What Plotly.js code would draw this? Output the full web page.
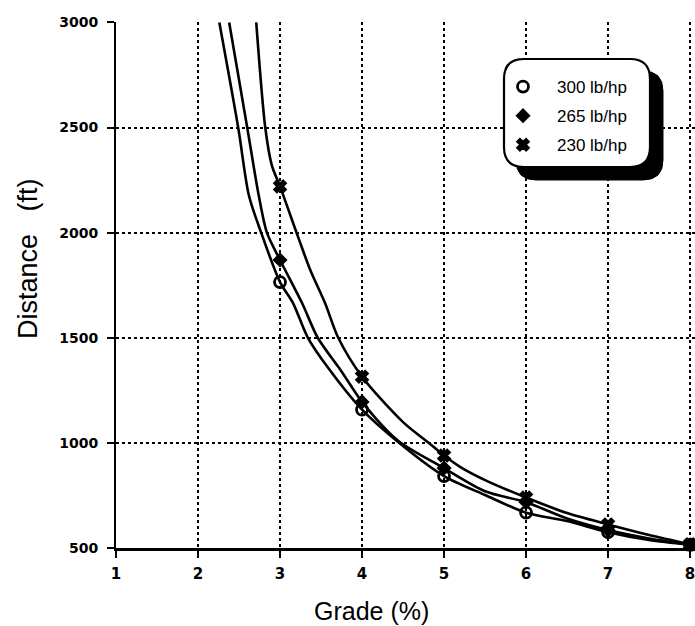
<!DOCTYPE html>
<html>
<head>
<meta charset="utf-8">
<script src="https://cdn.plot.ly/plotly-3.0.1.min.js"></script>
<style>html,body{margin:0;padding:0;background:#fff;}#chart{width:695px;height:626px;}</style>
</head>
<body>
<div id="chart"></div>
<script>
// ---- data ----
const seriesNames = ["300 lb/hp", "265 lb/hp", "230 lb/hp"];
const gradeTicks = [1, 2, 3, 4, 5, 6, 7, 8];
const distanceTicks = [500, 1000, 1500, 2000, 2500, 3000];

const grade300 = [2.26, 2.49, 2.62, 2.77, 3.0, 3.16, 3.34, 3.6, 4.0, 4.44, 5.0, 5.5, 6.0, 6.5, 7.0, 7.5, 8.0];
const dist300  = [3000, 2500, 2178, 2000, 1765, 1664, 1500, 1350, 1158, 1004, 842, 752, 668, 628, 575, 538, 515];

const grade265 = [2.38, 2.60, 2.74, 2.84, 3.0, 3.27, 3.46, 3.75, 4.0, 4.44, 5.0, 5.5, 6.0, 6.5, 7.0, 7.5, 8.0];
const dist265  = [3000, 2500, 2178, 2000, 1870, 1664, 1500, 1340, 1195, 1010, 880, 770, 718, 640, 585, 545, 515];

const grade230 = [2.71, 2.82, 2.90, 3.0, 3.22, 3.37, 3.55, 3.71, 4.0, 4.5, 4.8, 5.0, 5.2, 5.5, 6.0, 6.5, 7.0, 7.5, 8.0];
const dist230  = [3000, 2500, 2320, 2220, 1980, 1821, 1664, 1500, 1315, 1099, 1004, 940, 885, 823, 740, 666, 612, 562, 518];

// ---- build traces ----
const W = 695, H = 626, ML = 116, MR = 0, MT = 22, MB = 78;
const PW = W - ML - MR, PH = H - MT - MB;
const px2x = p => (p - ML) / PW;
const px2y = p => (H - MB - p) / PH;

const symbols = ["circle-open", "diamond", "x"];
const curves = [[grade300, dist300], [grade265, dist265], [grade230, dist230]];

const traces = [];
curves.forEach(([g, d], i) => {
  traces.push({
    x: g, y: d, type: "scatter", mode: "lines",
    line: {color: "#000", width: 2.6, shape: "spline", smoothing: 0.8},
    showlegend: false, hoverinfo: "skip", cliponaxis: true
  });
});
curves.forEach(([g, d], i) => {
  const mx = [], my = [];
  g.forEach((v, k) => { if (Number.isInteger(v)) { mx.push(v); my.push(d[k]); } });
  traces.push({
    x: mx, y: my, type: "scatter", mode: "markers", name: seriesNames[i],
    legendgroup: "g" + i, cliponaxis: false,
    marker: {
      symbol: symbols[i], color: "#000",
      size: i === 0 ? 11 : (i === 1 ? 10 : 11),
      line: {color: "#000", width: i === 0 ? 2.8 : 1.5}
    }
  });
});

function roundRect(x0, y0, x1, y1, r) {
  const X = p => px2x(p).toFixed(5), Y = p => px2y(p).toFixed(5);
  return "M" + X(x0 + r) + "," + Y(y0) +
    " L" + X(x1 - r) + "," + Y(y0) +
    " Q" + X(x1) + "," + Y(y0) + " " + X(x1) + "," + Y(y0 + r) +
    " L" + X(x1) + "," + Y(y1 - r) +
    " Q" + X(x1) + "," + Y(y1) + " " + X(x1 - r) + "," + Y(y1) +
    " L" + X(x0 + r) + "," + Y(y1) +
    " Q" + X(x0) + "," + Y(y1) + " " + X(x0) + "," + Y(y1 - r) +
    " L" + X(x0) + "," + Y(y0 + r) +
    " Q" + X(x0) + "," + Y(y0) + " " + X(x0 + r) + "," + Y(y0) + " Z";
}

const tickFontY = {family: "DejaVu Sans", size: 14, weight: "bold", color: "#000"};
const tickFontX = {family: "DejaVu Sans", size: 15, weight: "bold", color: "#000"};

const layout = {
  width: W, height: H,
  margin: {l: ML, r: MR, t: MT, b: MB, pad: 0},
  paper_bgcolor: "#fff", plot_bgcolor: "#fff",
  showlegend: true,
  xaxis: {
    range: [1, 8.06], tickvals: gradeTicks, ticktext: gradeTicks.map(String),
    showgrid: true, gridcolor: "#000", gridwidth: 2, griddash: "dot",
    showline: true, linecolor: "#000", linewidth: 3,
    ticks: "outside", ticklen: 7, tickwidth: 2, tickcolor: "#000",
    tickfont: tickFontX, ticklabelstandoff: 3, ticklabeloverflow: "allow", zeroline: false
  },
  yaxis: {
    range: [500, 3002], tickvals: distanceTicks, ticktext: distanceTicks.map(String),
    showgrid: true, gridcolor: "#000", gridwidth: 2, griddash: "dot",
    showline: true, linecolor: "#000", linewidth: 2,
    ticks: "outside", ticklen: 7, tickwidth: 2, tickcolor: "#000",
    tickfont: tickFontY, ticklabelstandoff: 6, ticklabeloverflow: "allow", zeroline: false
  },
  legend: {
    x: px2x(489), y: px2y(69), xanchor: "left", yanchor: "top",
    bgcolor: "rgba(0,0,0,0)", borderwidth: 0,
    font: {family: "Liberation Sans, Arial", size: 17, color: "#000"},
    itemwidth: 58, traceorder: "grouped", tracegroupgap: 4
  },
  shapes: [
    {type: "path", xref: "paper", yref: "paper", layer: "above",
     path: roundRect(516, 71, 663, 180, 20), fillcolor: "#000", line: {color: "#000", width: 1}},
    {type: "path", xref: "paper", yref: "paper", layer: "above",
     path: roundRect(504, 59, 650, 167, 20), fillcolor: "#fff", line: {color: "#000", width: 2.2}}
  ],
  annotations: [
    {text: "Grade (%)", xref: "paper", yref: "paper", x: px2x(371), y: px2y(611),
     xanchor: "center", yanchor: "middle", showarrow: false,
     font: {family: "Liberation Sans, Arial", size: 25, color: "#000"}},
    {text: "Distance   (ft)", xref: "paper", yref: "paper", x: px2x(28), y: px2y(259),
     xanchor: "center", yanchor: "middle", showarrow: false, textangle: -90,
     font: {family: "Liberation Sans, Arial", size: 27, color: "#000"}}
  ]
};

Plotly.newPlot("chart", traces, layout, {displayModeBar: false, staticPlot: true});
</script>
</body>
</html>
